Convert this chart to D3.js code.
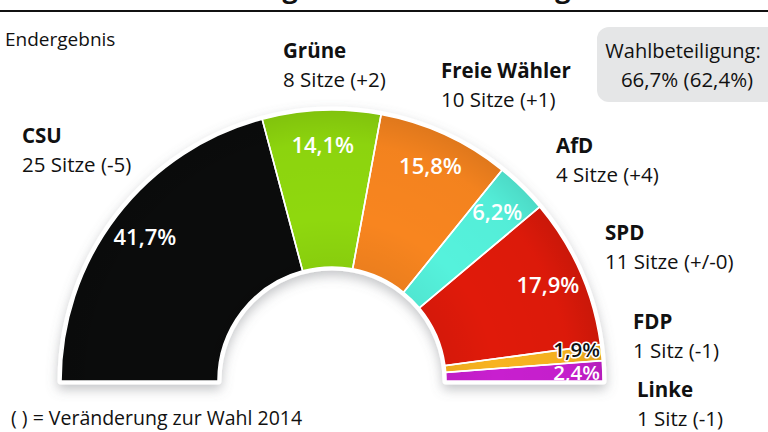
<!DOCTYPE html>
<html><head><meta charset="utf-8">
<script src="https://cdn.jsdelivr.net/npm/d3@7/dist/d3.min.js"></script>
<style>
html,body{margin:0;padding:0;background:#fff;}
svg{display:block;font-family:"Open Sans",sans-serif;}
</style></head>
<body>
<svg id="chart" width="768" height="432"></svg>
<script>
// ---- data ----
const parties = ["CSU","Grüne","Freie Wähler","AfD","SPD","FDP","Linke"];
const shares = [41.7,14.1,15.8,6.2,17.9,1.9,2.4];
const shareLabels = ["41,7%","14,1%","15,8%","6,2%","17,9%","1,9%","2,4%"];
const seatLabels = ["25 Sitze (-5)","8 Sitze (+2)","10 Sitze (+1)","4 Sitze (+4)","11 Sitze (+/-0)","1 Sitz (-1)","1 Sitz (-1)"];
const colors = ["#0b0c0c","#8fd80e","#f8851f","#55f2dc","#e01a0a","#f8b320","#c81fcf"];
const turnoutTitle = "Wahlbeteiligung:";
const turnoutValue = "66,7% (62,4%)";
const subtitle = "Endergebnis";
const footnote = "( ) = Veränderung zur Wahl 2014";
const title = "Ergebnis der Bezirkstagswahl";

// ---- layout ----
const W = 768, H = 432;
const cx = 332, cy = 381, rOuter = 271, rInner = 114, rLabel = 236;
const nameLayout = [[22,143],[283,58],[441,78],[556,153],[605,240],[633,329],[637,397]];
const lineGap = 29;

const svg = d3.select("#chart");
const defs = svg.append("defs");
const f = defs.append("filter").attr("id","shadow").attr("x","-20%").attr("y","-20%").attr("width","140%").attr("height","150%");
f.append("feDropShadow").attr("dx",0).attr("dy",5).attr("stdDeviation",6).attr("flood-color","#6a6f73").attr("flood-opacity",0.4);

const rg = defs.append("radialGradient").attr("id","shade").attr("gradientUnits","userSpaceOnUse")
  .attr("cx",0).attr("cy",0).attr("r",rOuter);
rg.append("stop").attr("offset",rInner/rOuter).attr("stop-color","#000").attr("stop-opacity",0.05);
rg.append("stop").attr("offset",0.6).attr("stop-color","#000").attr("stop-opacity",0);
rg.append("stop").attr("offset",0.88).attr("stop-color","#000").attr("stop-opacity",0.02);
rg.append("stop").attr("offset",1).attr("stop-color","#000").attr("stop-opacity",0.1);

// title (cut off) and rule
svg.append("text").attr("x",255).attr("y",-2).attr("font-size",27).attr("font-weight",700).attr("fill","#111").text(title);
svg.append("rect").attr("x",0).attr("y",10).attr("width",W).attr("height",2).attr("fill","#111");

svg.append("text").attr("x",5).attr("y",46).attr("font-size",19).attr("fill","#111").text(subtitle);

// turnout box
svg.append("rect").attr("x",597).attr("y",27).attr("width",200).attr("height",75).attr("rx",12).attr("fill","#e5e6e7");
svg.append("text").attr("x",683).attr("y",58).attr("text-anchor","middle").attr("font-size",20).attr("fill","#111").text(turnoutTitle);
svg.append("text").attr("x",687).attr("y",87).attr("text-anchor","middle").attr("font-size",20.5).attr("fill","#111").text(turnoutValue);

// pie
const pie = d3.pie().value(d=>d).sort(null).startAngle(-Math.PI/2).endAngle(Math.PI/2);
const arcs = pie(shares);
const arc = d3.arc().innerRadius(rInner).outerRadius(rOuter);
const g = svg.append("g").attr("transform",`translate(${cx},${cy})`);

// backing shape with white border + shadow
g.append("path")
  .attr("d", arc({startAngle:-Math.PI/2,endAngle:Math.PI/2}))
  .attr("fill","#fff").attr("stroke","#fff").attr("stroke-width",7).attr("stroke-linejoin","round")
  .attr("filter","url(#shadow)");

g.append("g").selectAll("path").data(arcs).join("path")
  .attr("d",arc).attr("fill",(d,i)=>colors[i]);
g.append("g").selectAll("path").data(arcs).join("path")
  .attr("d",arc).attr("fill","url(#shade)");
// separators
g.append("g").selectAll("path").data(arcs).join("path")
  .attr("d",arc).attr("fill","none").attr("stroke","#fff").attr("stroke-width",1.6);

// percent labels
const labelArc = d3.arc().innerRadius(rLabel).outerRadius(rLabel);
const big = arcs.slice(0,5);
g.append("g").selectAll("text").data(big).join("text")
  .attr("transform",d=>{const c=labelArc.centroid(d);return `translate(${c[0]},${c[1]})`;})
  .attr("text-anchor","middle").attr("dy","0.36em")
  .attr("font-size",22).attr("font-weight",600).attr("fill","#fff")
  .text((d,i)=>shareLabels[i]);

// small slices: right aligned at outer edge, baseline at lower edge
arcs.slice(5).forEach((d,k)=>{
  const i = 5+k;
  const a = d.endAngle;
  const y = -rOuter*Math.cos(a) - (i===5 ? 3.5 : 1.5);
  const t = g.append("text").attr("x",rOuter-3).attr("y",y).attr("text-anchor","end")
    .attr("font-size",20.5).attr("font-weight",600).text(shareLabels[i]);
  if(i===5){ t.attr("fill","#111").attr("stroke","#fff").attr("stroke-width",3).attr("paint-order","stroke").attr("stroke-linejoin","round"); }
  else { t.attr("fill","#fff"); }
});

// party labels
parties.forEach((p,i)=>{
  const [x,y]=nameLayout[i];
  svg.append("text").attr("x",x).attr("y",y).attr("font-size",20.5).attr("font-weight",700).attr("fill","#111").text(p);
  svg.append("text").attr("x",x).attr("y",y+lineGap).attr("font-size",20.5).attr("fill","#111").text(seatLabels[i]);
});

svg.append("text").attr("x",11).attr("y",425).attr("font-size",19.5).attr("fill","#111").text(footnote);
</script>
</body></html>
